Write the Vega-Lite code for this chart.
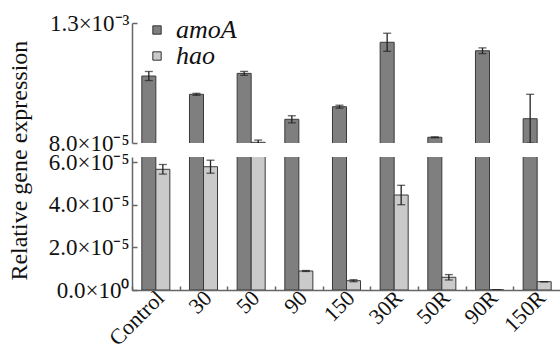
{
  "$schema": "https://vega.github.io/schema/vega-lite/v6.json",
  "padding": {"left": 8, "top": 12, "right": 0, "bottom": 0},
  "config": {
    "font": "Liberation Serif, Times New Roman, serif",
    "view": {"stroke": null},
    "axis": {
      "labelFont": "Liberation Serif, Times New Roman, serif",
      "labelFontSize": 23,
      "labelColor": "#111",
      "labelOverlap": false,
      "labelFlush": false,
      "domainColor": "#666",
      "domainWidth": 1.5,
      "tickColor": "#666",
      "tickWidth": 1.5,
      "grid": false,
      "title": null
    },
    "axisX": {"labelAngle": -45}
  },
  "title": {
    "text": "Relative gene expression",
    "orient": "left",
    "anchor": "middle",
    "font": "Liberation Serif, Times New Roman, serif",
    "fontSize": 24,
    "fontWeight": "normal",
    "color": "#111",
    "offset": 16,
    "dx": 20
  },
  "datasets": {
    "bars": [
      {"treatment": "Control", "gene": "amoA", "value": 7.61e-4, "lo": 7.15e-4, "hi": 8.07e-4},
      {"treatment": "30", "gene": "amoA", "value": 5.75e-4, "lo": 5.65e-4, "hi": 5.85e-4},
      {"treatment": "50", "gene": "amoA", "value": 7.88e-4, "lo": 7.68e-4, "hi": 8.08e-4},
      {"treatment": "90", "gene": "amoA", "value": 3.21e-4, "lo": 2.85e-4, "hi": 3.57e-4},
      {"treatment": "150", "gene": "amoA", "value": 4.49e-4, "lo": 4.34e-4, "hi": 4.64e-4},
      {"treatment": "30R", "gene": "amoA", "value": 1.104e-3, "lo": 1.012e-3, "hi": 1.196e-3},
      {"treatment": "50R", "gene": "amoA", "value": 1.38e-4, "lo": 1.33e-4, "hi": 1.43e-4},
      {"treatment": "90R", "gene": "amoA", "value": 1.018e-3, "lo": 9.89e-4, "hi": 1.047e-3},
      {"treatment": "150R", "gene": "amoA", "value": 3.27e-4, "lo": 7.9e-5, "hi": 5.75e-4},
      {"treatment": "Control", "gene": "hao", "value": 5.672e-5, "lo": 5.446e-5, "hi": 5.898e-5},
      {"treatment": "30", "gene": "hao", "value": 5.794e-5, "lo": 5.489e-5, "hi": 6.099e-5},
      {"treatment": "50", "gene": "hao", "value": 8.7e-5, "lo": 6.4e-5, "hi": 1.1e-4},
      {"treatment": "90", "gene": "hao", "value": 8.93e-6, "lo": 8.7e-6, "hi": 9.16e-6},
      {"treatment": "150", "gene": "hao", "value": 4.37e-6, "lo": 3.9e-6, "hi": 4.84e-6},
      {"treatment": "30R", "gene": "hao", "value": 4.464e-5, "lo": 4.008e-5, "hi": 4.92e-5},
      {"treatment": "50R", "gene": "hao", "value": 5.97e-6, "lo": 4.7e-6, "hi": 7.24e-6},
      {"treatment": "90R", "gene": "hao", "value": 1e-7, "lo": 1e-7, "hi": 1e-7},
      {"treatment": "150R", "gene": "hao", "value": 3.9e-6, "lo": 3.9e-6, "hi": 3.9e-6}
    ]
  },
  "bounds": "flush",
  "spacing": 14,
  "vconcat": [
    {
      "width": 429,
      "height": 120,
      "data": {"name": "bars"},
      "encoding": {
        "x": {"field": "treatment", "type": "nominal", "sort": ["Control", "30", "50", "90", "150", "30R", "50R", "90R", "150R"], "scale": {"paddingInner": 0, "paddingOuter": 0}, "axis": null},
        "xOffset": {"field": "gene", "type": "nominal", "sort": ["amoA", "hao"], "scale": {"paddingInner": 0, "paddingOuter": 0.7}}
      },
      "layer": [
        {
          "mark": {"type": "bar", "clip": true, "stroke": "#3a3a3a", "strokeWidth": 1},
          "encoding": {
            "y": {"field": "value", "type": "quantitative", "scale": {"domain": [8e-5, 1.3e-3], "nice": false, "zero": false},
              "axis": {"values": [8e-5, 4.8e-4, 8.8e-4, 1.3e-3], "tickSize": -5, "labelPadding": 8,
                "labelExpr": "datum.value > 1e-3 ? '1.3×10⁻³' : datum.value > 7e-4 ? '8.8×10⁻⁴' : datum.value > 3e-4 ? '4.8×10⁻⁴' : '8.0×10⁻⁵'"}},
            "color": {"field": "gene", "type": "nominal", "scale": {"domain": ["amoA", "hao"], "range": ["#7f7f7f", "#cacaca"]},
              "legend": {"title": null, "orient": "none", "legendX": 12, "legendY": -6, "symbolType": "square", "symbolSize": 70, "symbolStrokeColor": "#333", "symbolStrokeWidth": 1, "labelFont": "Liberation Serif, Times New Roman, serif", "labelFontStyle": "italic", "labelFontSize": 26, "labelColor": "#111", "rowPadding": 0, "labelOffset": 6}}
          }
        },
        {
          "mark": {"type": "rule", "clip": true, "color": "#222", "strokeWidth": 1.3},
          "encoding": {
            "y": {"field": "lo", "type": "quantitative"},
            "y2": {"field": "hi"}
          }
        },
        {
          "mark": {"type": "tick", "clip": true, "color": "#222", "thickness": 1.3, "size": 8},
          "encoding": {"y": {"field": "lo", "type": "quantitative"}}
        },
        {
          "mark": {"type": "tick", "clip": true, "color": "#222", "thickness": 1.3, "size": 8},
          "encoding": {"y": {"field": "hi", "type": "quantitative"}}
        }
      ]
    },
    {
      "width": 429,
      "height": 133,
      "data": {"name": "bars"},
      "encoding": {
        "x": {"field": "treatment", "type": "nominal", "sort": ["Control", "30", "50", "90", "150", "30R", "50R", "90R", "150R"], "scale": {"paddingInner": 0, "paddingOuter": 0},
          "axis": {"labelAngle": -45, "labelAlign": "right", "labelBaseline": "middle", "tickOffset": -23.8, "labelOffset": 28, "tickSize": -4, "labelPadding": 8, "labelFontSize": 22}},
        "xOffset": {"field": "gene", "type": "nominal", "sort": ["amoA", "hao"], "scale": {"paddingInner": 0, "paddingOuter": 0.7}}
      },
      "layer": [
        {
          "mark": {"type": "bar", "clip": true, "stroke": "#3a3a3a", "strokeWidth": 1},
          "encoding": {
            "y": {"field": "value", "type": "quantitative", "scale": {"domain": [0, 6.25e-5], "nice": false},
              "axis": {"values": [0, 2e-5, 4e-5, 6e-5], "tickSize": -5, "labelPadding": 8,
                "labelExpr": "datum.value > 5e-5 ? '6.0×10⁻⁵' : datum.value > 3e-5 ? '4.0×10⁻⁵' : datum.value > 1e-5 ? '2.0×10⁻⁵' : '0.0×10⁰'"}},
            "color": {"field": "gene", "type": "nominal", "scale": {"domain": ["amoA", "hao"], "range": ["#7f7f7f", "#cacaca"]}, "legend": null}
          }
        },
        {
          "mark": {"type": "rule", "clip": true, "color": "#222", "strokeWidth": 1.3},
          "encoding": {
            "y": {"field": "lo", "type": "quantitative"},
            "y2": {"field": "hi"}
          }
        },
        {
          "mark": {"type": "tick", "clip": true, "color": "#222", "thickness": 1.3, "size": 8},
          "encoding": {"y": {"field": "lo", "type": "quantitative"}}
        },
        {
          "mark": {"type": "tick", "clip": true, "color": "#222", "thickness": 1.3, "size": 8},
          "encoding": {"y": {"field": "hi", "type": "quantitative"}}
        }
      ]
    }
  ]
}
